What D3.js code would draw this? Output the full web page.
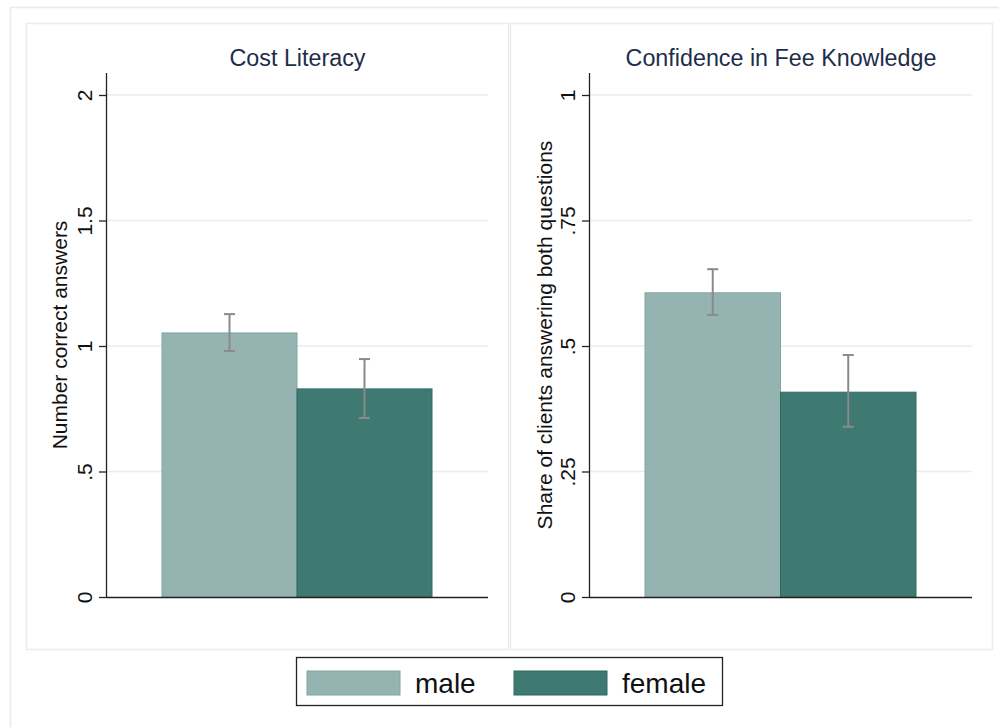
<!DOCTYPE html>
<html><head><meta charset="utf-8">
<script src="https://cdn.jsdelivr.net/npm/d3@7"></script>
<style>body{margin:0;background:#fff;} svg{display:block;font-family:Arial,"Liberation Sans",sans-serif;}</style>
</head><body><svg id="c" width="999" height="727"></svg>
<script>
const groups = ["male", "female"];
const panelTitles = ["Cost Literacy", "Confidence in Fee Knowledge"];
const yTitles = ["Number correct answers", "Share of clients answering both questions"];
const costMeans = [1.052, 0.829];
const costLow = [0.980, 0.713];
const costHigh = [1.127, 0.948];
const confMeans = [0.606, 0.408];
const confLow = [0.562, 0.339];
const confHigh = [0.653, 0.482];
const costTicks = [0, 0.5, 1, 1.5, 2];
const costTickLabels = ["0", ".5", "1", "1.5", "2"];
const confTicks = [0, 0.25, 0.5, 0.75, 1];
const confTickLabels = ["0", ".25", ".5", ".75", "1"];

const fills = {male: "#95b4b1", female: "#3f7a72"};
const strokes = {male: "#7fa6a2", female: "#2f6b63"};

const svg = d3.select("#c");
svg.append("rect").attr("x",10.5).attr("y",7.5).attr("width",1000).attr("height",800)
  .attr("fill","#fff").attr("stroke","#e4ecec").attr("stroke-width",1.5);

const panels = [
  {box:[26,23,508,649], ax:107, x1:488, ymax:2, means:costMeans, lo:costLow, hi:costHigh, ticks:costTicks, labels:costTickLabels, ytx:67},
  {box:[510,23,992,649], ax:590, x1:972, ymax:1, means:confMeans, lo:confLow, hi:confHigh, ticks:confTicks, labels:confTickLabels, ytx:552}
];

panels.forEach((p,i)=>{
  const g = svg.append("g");
  g.append("rect").attr("x",p.box[0]+0.5).attr("y",p.box[1]+0.5)
    .attr("width",p.box[2]-p.box[0]).attr("height",p.box[3]-p.box[1])
    .attr("fill","#fff").attr("stroke","#e6eeee").attr("stroke-width",1.5);
  const y = d3.scaleLinear().domain([0,p.ymax]).range([597,95]);
  const band = d3.scaleBand().domain(groups).range([p.ax+55, p.x1-56]).padding(0);
  g.selectAll(".grid").data(p.ticks.filter(t=>t>0)).join("line")
    .attr("x1",p.ax).attr("x2",p.x1).attr("y1",d=>y(d)).attr("y2",d=>y(d))
    .attr("stroke","#e6eeee").attr("stroke-width",1.5);
  g.selectAll(".bar").data(groups).join("rect")
    .attr("x",d=>band(d)).attr("width",band.bandwidth())
    .attr("y",(d,j)=>y(p.means[j])).attr("height",(d,j)=>y(0)-y(p.means[j]))
    .attr("fill",d=>fills[d]).attr("stroke",d=>strokes[d]).attr("stroke-width",1);
  groups.forEach((d,j)=>{
    const cx = band(d)+band.bandwidth()/2;
    g.append("line").attr("x1",cx).attr("x2",cx).attr("y1",y(p.lo[j])).attr("y2",y(p.hi[j]))
      .attr("stroke","#8a8a8a").attr("stroke-width",2);
    [p.lo[j],p.hi[j]].forEach(v=>{
      g.append("line").attr("x1",cx-5.5).attr("x2",cx+5.5).attr("y1",y(v)).attr("y2",y(v))
        .attr("stroke","#8a8a8a").attr("stroke-width",2);
    });
  });
  const axis = d3.axisLeft(y).tickValues(p.ticks).tickFormat((d,k)=>p.labels[k]).tickSize(8);
  const ag = g.append("g").attr("transform",`translate(${p.ax},0)`).call(axis);
  ag.select(".domain").attr("d",`M-0.5,73V597`).attr("stroke","#222").attr("stroke-width",1.3);
  ag.selectAll(".tick line").attr("stroke","#222").attr("stroke-width",1.3);
  ag.selectAll(".tick text")
    .attr("transform","translate(-15,0) rotate(-90)")
    .attr("x",0).attr("y",0).attr("dy",0).attr("text-anchor","middle")
    .attr("font-size",21).attr("fill","#111").attr("font-family","Arial,'Liberation Sans',sans-serif");
  g.append("line").attr("x1",p.ax).attr("x2",p.x1).attr("y1",597.5).attr("y2",597.5)
    .attr("stroke","#222").attr("stroke-width",1.3);
  g.append("text").attr("x",(p.ax+p.x1)/2).attr("y",66).attr("text-anchor","middle")
    .attr("font-size",23.3).attr("fill","#1e2d4a").text(panelTitles[i]);
  g.append("text").attr("transform",`translate(${p.ytx},335) rotate(-90)`)
    .attr("text-anchor","middle").attr("font-size",21).attr("fill","#111").text(yTitles[i]);
});

const lg = svg.append("g");
lg.append("rect").attr("x",296.5).attr("y",657.5).attr("width",426).attr("height",48)
  .attr("fill","#fff").attr("stroke","#222").attr("stroke-width",1.3);
const legX = [307, 514];
groups.forEach((d,j)=>{
  lg.append("rect").attr("x",legX[j]).attr("y",671).attr("width",93).attr("height",24)
    .attr("fill",fills[d]).attr("stroke",strokes[d]).attr("stroke-width",1);
  lg.append("text").attr("x",legX[j]+108).attr("y",693).attr("font-size",28).attr("fill","#111").text(d);
});
</script></body></html>
